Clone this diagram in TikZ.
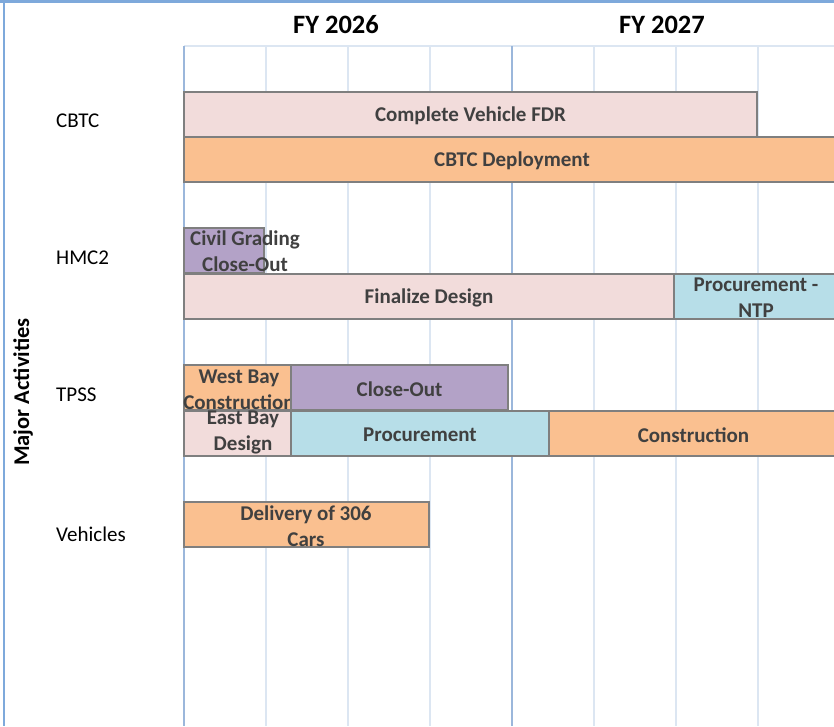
\documentclass[tikz,border=0pt]{standalone}
\usepackage{fontspec}
\setmainfont{Carlito}
\definecolor{pinkf}{HTML}{F2DCDB}
\definecolor{orangef}{HTML}{FAC090}
\definecolor{purplef}{HTML}{B3A2C7}
\definecolor{bluef}{HTML}{B7DEE8}
\definecolor{barline}{HTML}{7F7F7F}
\definecolor{bartext}{HTML}{404040}
\definecolor{gridminor}{HTML}{DCE6F2}
\definecolor{gridmajor}{HTML}{9BB7DB}
\definecolor{frameblue}{HTML}{7EA9DB}
\begin{document}
\begin{tikzpicture}[x=1pt,y=-1pt,
  bar/.style={draw=barline,line width=1.6pt,anchor=north west,inner sep=0pt,outer sep=0pt,minimum height=45pt},
  bartxt/.style={font=\fontsize{21}{26}\selectfont\bfseries,text=bartext,align=center,inner sep=0pt},
  rowlabel/.style={font=\fontsize{21}{25}\selectfont,anchor=west,inner sep=0pt},
  fylabel/.style={font=\fontsize{26.5}{30}\selectfont\bfseries,inner sep=0pt},
  minor/.style={draw=gridminor,line width=1.8pt},
  major/.style={draw=gridmajor,line width=1.8pt}]
\useasboundingbox (0,0) rectangle (834,726);
\clip (0,0) rectangle (834,726);
\fill[white] (0,0) rectangle (834,726);
% frame
\draw[frameblue,line width=3pt] (0,1.5) -- (834,1.5);
\draw[frameblue,line width=2.5pt] (4,0) -- (4,726);
% grid
\draw[minor] (184,46) -- (840,46);
\foreach \x in {266,348,430,594,676,758} {\draw[minor] (\x,46) -- (\x,726);}
\draw[major] (184,46) -- (184,726);
\draw[major] (512,46) -- (512,726);
% FY labels
\node[fylabel] (fy26) at (336,25) {FY 2026};
\node[fylabel] (fy27) at (662,25) {FY 2027};
% axis title
\node[font=\fontsize{22.5}{26}\selectfont\bfseries,rotate=90,inner sep=0pt] (axis) at (23,392) {Major Activities};
% row labels
\node[rowlabel] (cbtc) at (56,121) {CBTC};
\node[rowlabel] (hmc) at (56,258) {HMC2};
\node[rowlabel] (tpss) at (56,395) {TPSS};
\node[rowlabel] (veh) at (56,534) {Vehicles};
% CBTC bars
\node[bar,fill=pinkf,minimum width=573pt] (fdr) at (184,92) {};
\node[bartxt] (fdrtxt) at ([yshift=-1.5pt]fdr.center) {Complete Vehicle FDR};
\node[bar,fill=orangef,minimum width=656pt] (deploy) at (184,137) {};
\node[bartxt] (deploytxt) at ([yshift=-1.5pt]deploy.center) {CBTC Deployment};
% HMC2 bars
\node[bar,fill=purplef,minimum width=80pt] (civil) at (184,228) {};
\node[bartxt] (civiltxt) at (245,251.5) {Civil Grading\\Close-Out};
\node[bar,fill=pinkf,minimum width=490pt] (final) at (184,274) {};
\node[bartxt] (finaltxt) at ([yshift=-1.5pt]final.center) {Finalize Design};
\node[bar,fill=bluef,minimum width=164pt] (ntp) at (674,274) {};
\node[bartxt] (ntptxt) at (756,297.5) {Procurement -\\NTP};
% TPSS bars
\node[bar,fill=orangef,minimum width=107pt] (west) at (184,365) {};
\node[bartxt] (westtxt) at (239,389.5) {West Bay\\Construction};
\node[bar,fill=purplef,minimum width=217pt] (close) at (291,365) {};
\node[bartxt] (closetxt) at ([yshift=-1.5pt]close.center) {Close-Out};
\node[bar,fill=pinkf,minimum width=107pt] (east) at (184,411) {};
\node[bartxt] (easttxt) at (243,432.5) {East Bay\\Design};
\node[bar,fill=bluef,minimum width=258pt] (proc) at (291,411) {};
\node[bartxt] (proctxt) at ([yshift=-1.5pt]proc.center) {Procurement};
\node[bar,fill=orangef,minimum width=289pt] (constr) at (549,411) {};
\node[bartxt] (constrtxt) at ([yshift=-1.5pt]constr.center) {Construction};
% Vehicles
\node[bar,fill=orangef,minimum width=245pt] (deliv) at (184,502) {};
\node[bartxt] (delivtxt) at (306,526) {Delivery of 306\\Cars};
\end{tikzpicture}
\end{document}
